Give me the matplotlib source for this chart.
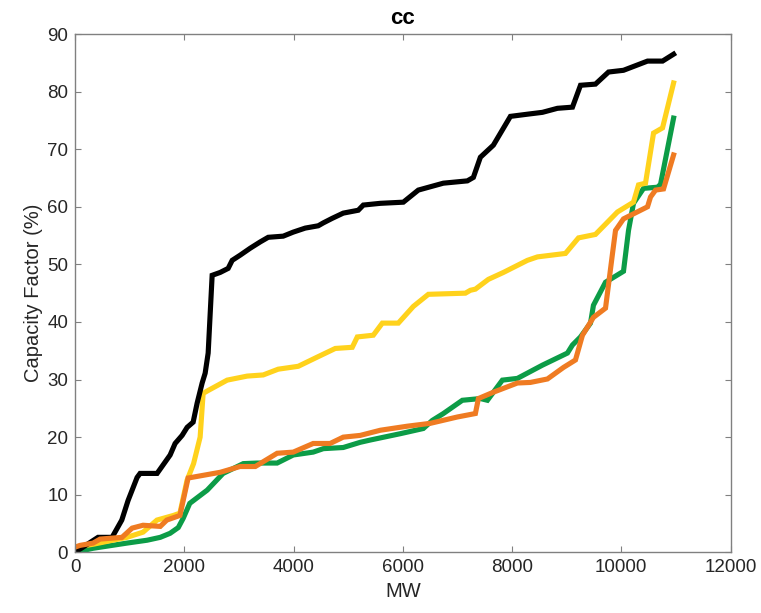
import matplotlib
matplotlib.use("Agg")
import matplotlib.pyplot as plt

# capacity factor curves, MW on x, % on y
black_mw = [0, 421, 678, 856, 971, 1136, 1191, 1502, 1741, 1832, 1960, 2052, 2162, 2235,
            2327, 2382, 2437, 2510, 2657, 2803, 2877, 3023, 3206, 3390, 3536, 3811, 3994,
            4214, 4452, 4544, 4709, 4910, 5185, 5277, 5588, 6010, 6284, 6742, 7182, 7292,
            7420, 7658, 7970, 8300, 8556, 8831, 9106, 9253, 9527, 9766, 10040, 10480,
            10755, 10957]
black_cf = [0, 2.6, 2.6, 5.6, 9.0, 13.0, 13.7, 13.7, 16.9, 18.9, 20.3, 21.7, 22.6, 25.9,
            29.4, 31.1, 34.6, 48.1, 48.6, 49.3, 50.7, 51.6, 52.8, 53.9, 54.7, 54.9, 55.6,
            56.3, 56.7, 57.2, 58.0, 58.9, 59.4, 60.3, 60.6, 60.8, 62.9, 64.1, 64.5, 65.1,
            68.6, 70.7, 75.7, 76.1, 76.4, 77.1, 77.3, 81.1, 81.3, 83.4, 83.7, 85.3,
            85.3, 86.5]

yellow_mw = [0, 330, 950, 1245, 1500, 1800, 1920, 2050, 2170, 2290, 2345, 2437, 2785,
             3151, 3445, 3719, 4086, 4434, 4764, 5075, 5167, 5460, 5625, 5918, 6193, 6468,
             7146, 7237, 7329, 7567, 7842, 8281, 8465, 8978, 9216, 9527, 9930, 10223,
             10315, 10443, 10590, 10755, 10957]
yellow_cf = [0.9, 1.4, 2.6, 3.5, 5.6, 6.4, 6.8, 12.5, 15.4, 20.0, 27.6, 28.1, 29.9,
             30.6, 30.8, 31.8, 32.3, 33.9, 35.4, 35.6, 37.4, 37.7, 39.8, 39.8, 42.7, 44.8,
             45.0, 45.5, 45.7, 47.4, 48.6, 50.7, 51.3, 51.9, 54.6, 55.2, 59.1, 60.8,
             63.8, 64.1, 72.8, 73.7, 81.5]

green_mw = [0, 330, 950, 1320, 1560, 1740, 1890, 1980, 2100, 2420, 2710, 3080, 3330,
            3700, 3995, 4360, 4545, 4910, 5220, 5405, 5955, 6376, 6540, 6743, 7090, 7420,
            7549, 7823, 8098, 8556, 9014, 9106, 9253, 9436, 9490, 9711, 10040, 10132,
            10223, 10407, 10663, 10718, 10957]
green_cf = [0, 0.7, 1.6, 2.1, 2.6, 3.3, 4.3, 5.9, 8.5, 10.8, 13.7, 15.4, 15.5,
            15.5, 16.9, 17.4, 18.0, 18.2, 19.1, 19.5, 20.6, 21.5, 22.9, 24.1, 26.4, 26.7,
            26.4, 29.9, 30.2, 32.5, 34.6, 36.0, 37.4, 39.8, 42.9, 46.9, 48.8, 55.9,
            60.6, 63.2, 63.4, 63.9, 75.4]

orange_mw = [0, 90, 330, 460, 860, 1045, 1245, 1560, 1680, 1920, 2070, 2660, 3020, 3300,
             3700, 3995, 4360, 4670, 4910, 5220, 5590, 6083, 6505, 6999, 7329, 7384, 7658,
             8098, 8336, 8648, 8941, 9161, 9289, 9490, 9711, 9839, 9894, 10040, 10480,
             10535, 10627, 10773, 10957]
orange_cf = [0.9, 1.2, 1.6, 2.3, 2.6, 4.2, 4.7, 4.5, 5.6, 6.4, 12.9, 13.9, 14.9, 14.9,
             17.2, 17.4, 18.9, 18.9, 20.0, 20.3, 21.2, 21.9, 22.4, 23.5, 24.1, 26.7, 27.8,
             29.4, 29.5, 30.1, 32.1, 33.4, 37.7, 40.8, 42.4, 51.9, 55.9, 57.9, 60.0,
             61.7, 62.9, 63.1, 69.0]

x_ticks = [0, 2000, 4000, 6000, 8000, 10000, 12000]
y_ticks = [0, 10, 20, 30, 40, 50, 60, 70, 80, 90]

plt.rcParams['font.family'] = ['Liberation Sans', 'DejaVu Sans']
text_col = '#262626'
axis_col = '#808080'

fig = plt.figure(figsize=(7.61, 6.13), dpi=100)
ax = fig.add_axes([0.0986, 0.099, 0.8614, 0.8455])

lw = 3.7
ax.plot(green_mw, green_cf, color='#0c9c47', lw=lw, solid_joinstyle='miter')
ax.plot(yellow_mw, yellow_cf, color='#ffd21c', lw=lw, solid_joinstyle='miter')
ax.plot(black_mw, black_cf, color='#000000', lw=lw, solid_joinstyle='miter')
ax.plot(orange_mw, orange_cf, color='#ef7b22', lw=lw, solid_joinstyle='miter')

ax.set_xlim(0, 12000)
ax.set_ylim(0, 90)
ax.set_xticks(x_ticks)
ax.set_yticks(y_ticks)
ax.tick_params(direction='in', length=4, width=0.8, color=axis_col,
               labelsize=13.5, labelcolor=text_col, top=True, right=True, pad=5)
for s in ax.spines.values():
    s.set_color(axis_col)
    s.set_linewidth(1.0)

ax.set_xlabel('MW', fontsize=14.5, color=text_col, labelpad=4)
ax.set_ylabel('Capacity Factor (%)', fontsize=14.5, color=text_col, labelpad=3)
ax.set_title('cc', fontsize=16, fontweight='bold', color='#000000', pad=7)

fig.savefig('out.png', dpi=100)
